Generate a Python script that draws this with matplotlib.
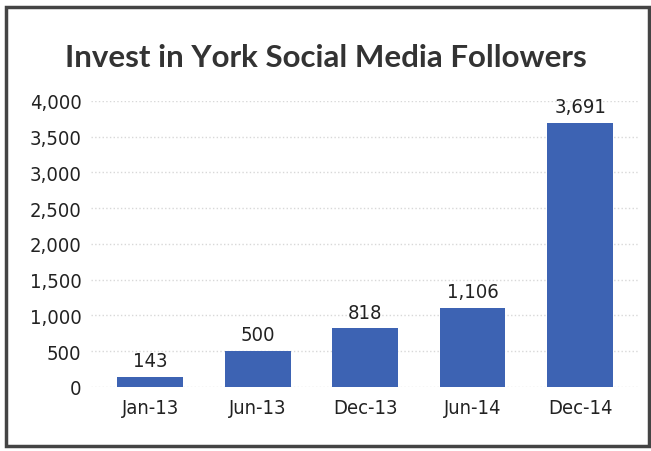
import matplotlib.pyplot as plt
from matplotlib.patches import Rectangle

periods = ['Jan-13', 'Jun-13', 'Dec-13', 'Jun-14', 'Dec-14']
followers = [143, 500, 818, 1106, 3691]

plt.rcParams['font.family'] = ['DejaVu Sans']
plt.rcParams['font.stretch'] = 'condensed'

fig = plt.figure(figsize=(6.51, 4.52), dpi=100)
ax = fig.add_axes([0.14, 0.1416, 0.842, 0.633])

x = range(len(periods))
bars = ax.bar(x, followers, width=0.61, color='#3d63b3', zorder=3)
for b, v in zip(bars, followers):
    ax.annotate(f'{v:,}', (b.get_x() + b.get_width() / 2, v), xytext=(0, 5),
                textcoords='offset points', ha='center', va='bottom',
                fontsize=14.5, color='#222222')

ax.set_xlim(-0.55, 4.55)
ax.set_ylim(0, 4000)
ax.set_yticks(range(0, 4001, 500))
ax.set_yticklabels([f'{t:,}' for t in range(0, 4001, 500)])
ax.set_xticks(list(x))
ax.set_xticklabels(periods)
ax.tick_params(axis='both', length=0, labelsize=14.5, colors='#222222')
ax.tick_params(axis='y', pad=7)
ax.tick_params(axis='x', pad=8)
ax.grid(axis='y', color='#d8d8d8', linestyle=':', linewidth=1, zorder=0)
for s in ax.spines.values():
    s.set_visible(False)

fig.text(0.5, 0.872, 'Invest in York Social Media Followers', ha='center', va='center',
         fontsize=22.5, fontweight='bold', family=['Lato', 'DejaVu Sans'], color='#333333')

fig.patches.append(Rectangle((6 / 651, 5 / 452), 643 / 651, 439 / 452,
                             transform=fig.transFigure, fill=False,
                             edgecolor='#444444', linewidth=2.5))

fig.savefig('out.png', dpi=100)
